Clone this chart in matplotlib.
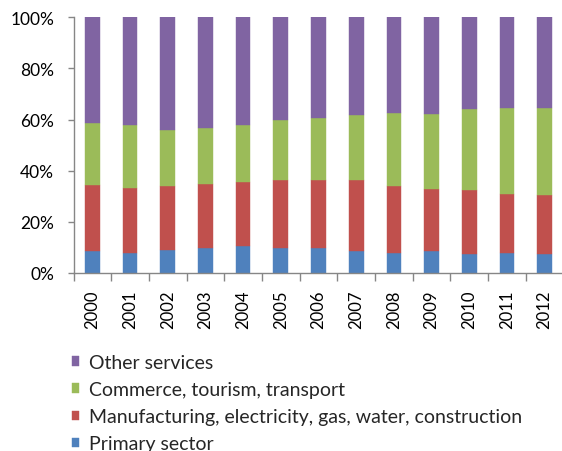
import matplotlib
matplotlib.use("Agg")
import matplotlib.pyplot as plt
from matplotlib.ticker import FixedLocator, PercentFormatter
import numpy as np

years = ["2000", "2001", "2002", "2003", "2004", "2005", "2006",
         "2007", "2008", "2009", "2010", "2011", "2012"]
primary = [8.5, 8.0, 9.0, 9.9, 10.4, 9.9, 9.9, 8.5, 8.0, 8.5, 7.4, 8.0, 7.4]
manufacturing = [25.9, 25.4, 24.9, 25.0, 25.1, 26.5, 26.5, 27.9, 25.9, 24.4, 24.9, 22.9, 23.0]
commerce = [24.4, 24.4, 21.9, 21.9, 22.3, 23.4, 24.4, 25.3, 28.8, 29.3, 31.8, 33.8, 34.3]
other = [41.2, 42.2, 44.2, 43.2, 42.2, 40.2, 39.2, 38.3, 37.3, 37.8, 35.9, 35.3, 35.3]

series = [
    ("Primary sector", primary, "#4F81BD"),
    ("Manufacturing, electricity, gas, water, construction", manufacturing, "#C0504D"),
    ("Commerce, tourism, transport", commerce, "#9BBB59"),
    ("Other services", other, "#8064A2"),
]

plt.rcParams['font.family'] = ['Lato', 'DejaVu Sans']

W, H = 562, 452
fig = plt.figure(figsize=(W / 100, H / 100), dpi=100)
ax = fig.add_axes([73.5 / W, (H - 274) / H, 490 / W, (274 - 18.3) / H])

x = np.arange(len(years))
bottom = np.zeros(len(years))
handles = []
for name, vals, color in series:
    v = np.array(vals, dtype=float)
    b = ax.bar(x, v, 0.39, bottom=bottom, color=color, label=name,
               edgecolor=color, linewidth=0.3)
    handles.append(b)
    bottom += v

ax.set_xlim(-0.5, len(years) - 0.5)
ax.set_ylim(0, 100)
ax.yaxis.set_major_locator(FixedLocator([0, 20, 40, 60, 80, 100]))
ax.yaxis.set_major_formatter(PercentFormatter(decimals=0))
ax.set_xticks(x)
ax.set_xticklabels(years, rotation=90)
ax.xaxis.set_minor_locator(FixedLocator(np.arange(-0.5, len(years), 1.0)))

gray = "#868686"
for s in ["top", "right"]:
    ax.spines[s].set_visible(False)
for s in ["left", "bottom"]:
    ax.spines[s].set_color(gray)
    ax.spines[s].set_linewidth(1.0)

ax.tick_params(axis="x", which="major", length=0, pad=12, labelsize=12, labelcolor="#000000")
ax.tick_params(axis="x", which="minor", length=5.5, color=gray, width=1.0)
ax.tick_params(axis="y", which="major", length=4, color=gray, width=1.0, pad=10,
               labelsize=12.5, labelcolor="#000000")

leg = fig.legend(handles[::-1], [s[0] for s in series][::-1],
                 loc="upper left", bbox_to_anchor=(72 / W, (H - 355) / H),
                 frameon=False, fontsize=14, handlelength=0.36, handleheight=0.36,
                 handletextpad=0.52, labelspacing=0.52, borderpad=0, borderaxespad=0)
for t in leg.get_texts():
    t.set_color("#262626")

fig.savefig("out.png", dpi=100)
